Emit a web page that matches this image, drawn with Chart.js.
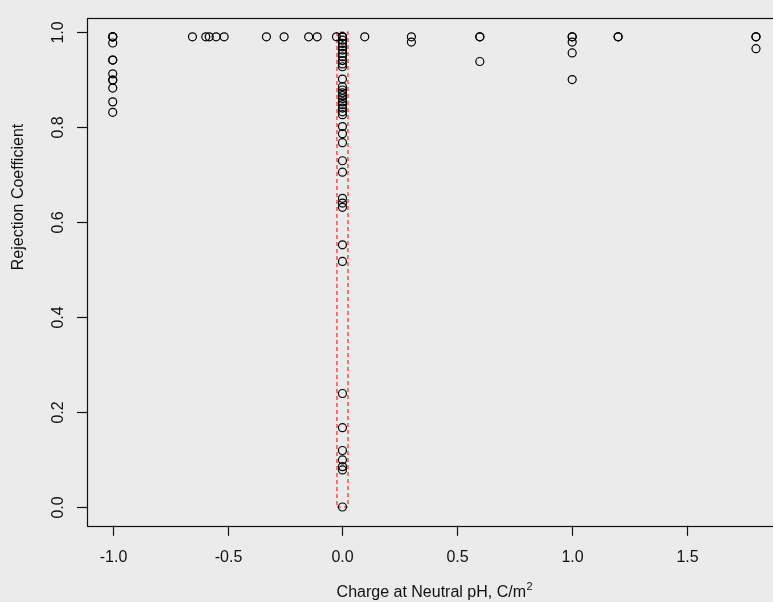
<!DOCTYPE html>
<html>
<head>
<meta charset="utf-8">
<script src="https://cdn.jsdelivr.net/npm/chart.js@4/dist/chart.umd.min.js"></script>
<style>
  html, body { margin: 0; padding: 0; overflow: hidden; background: #ebebeb; }
  #wrap { width: 773px; height: 602px; overflow: hidden; }
</style>
</head>
<body>
<div id="wrap"><canvas id="plot" width="790" height="602"></canvas></div>
<script>
// measured points: charge at neutral pH vs rejection coefficient
const chargeX = [
  -1, -1, -1, -1, -1, -1, -1, -1, -1, -1, -1, -1,
  -0.653, -0.595, -0.58, -0.55, -0.515, -0.331, -0.254, -0.147, -0.11, -0.026,
  0.097, 0.30, 0.30, 0.598, 0.598, 0.598, 1.0, 1.0, 1.0, 1.0, 1.0, 1.2, 1.2, 1.8, 1.8, 1.8,
  0, 0, 0, 0, 0, 0, 0, 0, 0, 0, 0, 0,
  0,
  0, 0, 0, 0, 0, 0, 0, 0, 0, 0,
  0, 0, 0, 0, 0, 0, 0, 0, 0, 0, 0, 0, 0, 0, 0, 0, 0
];
const rejectionY = [
  0.99, 0.99, 0.99, 0.977, 0.941, 0.941, 0.912, 0.899, 0.899, 0.882, 0.853, 0.831,
  0.99, 0.99, 0.99, 0.99, 0.99, 0.99, 0.99, 0.99, 0.99, 0.99,
  0.99, 0.99, 0.979, 0.99, 0.99, 0.938, 0.99, 0.99, 0.979, 0.956, 0.900, 0.99, 0.99, 0.99, 0.99, 0.965,
  0.99, 0.99, 0.99, 0.983, 0.976, 0.969, 0.962, 0.955, 0.948, 0.940, 0.933, 0.927,
  0.901,
  0.885, 0.878, 0.872, 0.866, 0.860, 0.853, 0.847, 0.840, 0.832, 0.826,
  0.801, 0.786, 0.767, 0.729, 0.705, 0.650, 0.640, 0.631, 0.552, 0.517, 0.239, 0.167, 0.119, 0.099, 0.085, 0.078, 0.0
];

// dashed highlight box around the zero-charge column
const boxX = [-0.024, 0.024, 0.024, -0.024, -0.024];
const boxY = [0, 0, 1.0, 1.0, 0];

const xTicks = [-1.0, -0.5, 0.0, 0.5, 1.0, 1.5];
const yTicks = [0.0, 0.2, 0.4, 0.6, 0.8, 1.0];
const xTitle = 'Charge at Neutral pH, C/m';
const xTitleSup = '2';
const yTitle = 'Rejection Coefficient';

const points = chargeX.map((x, i) => ({ x: x, y: rejectionY[i] }));
const boxPts = boxX.map((x, i) => ({ x: x, y: boxY[i] }));

const FONT = '16px "Liberation Sans", Arial, sans-serif';

const rAxes = {
  id: 'rAxes',
  afterDraw(chart) {
    const ctx = chart.ctx;
    const a = chart.chartArea;
    const xs = chart.scales.x, ys = chart.scales.y;
    ctx.save();
    ctx.strokeStyle = '#111';
    ctx.lineWidth = 1.2;
    ctx.strokeRect(Math.round(a.left) + 0.5, Math.round(a.top) + 0.5,
      Math.round(a.right - a.left), Math.round(a.bottom - a.top));

    ctx.fillStyle = '#111';
    ctx.font = FONT;
    // x ticks
    xTicks.forEach(v => {
      const px = Math.round(xs.getPixelForValue(v)) + 0.5;
      ctx.beginPath();
      ctx.moveTo(px, a.bottom);
      ctx.lineTo(px, a.bottom + 10);
      ctx.stroke();
      ctx.textAlign = 'center';
      ctx.textBaseline = 'middle';
      ctx.fillText(v.toFixed(1), px, 558);
    });
    // y ticks, labels rotated like base R
    yTicks.forEach(v => {
      const py = Math.round(ys.getPixelForValue(v)) + 0.5;
      ctx.beginPath();
      ctx.moveTo(a.left, py);
      ctx.lineTo(a.left - 10, py);
      ctx.stroke();
      ctx.save();
      ctx.translate(59, py);
      ctx.rotate(-Math.PI / 2);
      ctx.textAlign = 'center';
      ctx.textBaseline = 'middle';
      ctx.fillText(v.toFixed(1), 0, 0);
      ctx.restore();
    });

    // x title with superscript
    const wMain = ctx.measureText(xTitle).width;
    ctx.font = '11px "Liberation Sans", Arial, sans-serif';
    const wSup = ctx.measureText(xTitleSup).width;
    const cx = (a.left + a.right) / 2;
    const startX = cx - (wMain + wSup) / 2;
    ctx.textAlign = 'left';
    ctx.textBaseline = 'alphabetic';
    ctx.fillText(xTitleSup, startX + wMain + 0.5, 590);
    ctx.font = FONT;
    ctx.fillText(xTitle, startX, 597);

    // y title
    ctx.save();
    ctx.translate(19, 197);
    ctx.rotate(-Math.PI / 2);
    ctx.textAlign = 'center';
    ctx.textBaseline = 'middle';
    ctx.fillText(yTitle, 0, 0);
    ctx.restore();
    ctx.restore();
  }
};

new Chart(document.getElementById('plot').getContext('2d'), {
  type: 'scatter',
  data: {
    datasets: [
      {
        label: 'samples',
        data: points,
        pointStyle: 'circle',
        pointRadius: 4,
        pointBorderWidth: 1.2,
        pointBorderColor: '#000',
        pointBackgroundColor: 'rgba(0,0,0,0)',
        showLine: false
      },
      {
        label: 'zero charge',
        data: boxPts,
        showLine: true,
        borderColor: '#ff2020',
        borderWidth: 1.2,
        borderDash: [4, 3],
        pointRadius: 0,
        fill: false,
        tension: 0
      }
    ]
  },
  options: {
    responsive: false,
    animation: false,
    events: [],
    layout: { padding: { left: 87, top: 18, right: 8.3, bottom: 76.2 } },
    plugins: { legend: { display: false }, tooltip: { enabled: false } },
    scales: {
      x: { type: 'linear', display: false, min: -1.112, max: 1.912 },
      y: { type: 'linear', display: false, min: -0.0396, max: 1.0296 }
    }
  },
  plugins: [rAxes]
});
</script>
</body>
</html>
